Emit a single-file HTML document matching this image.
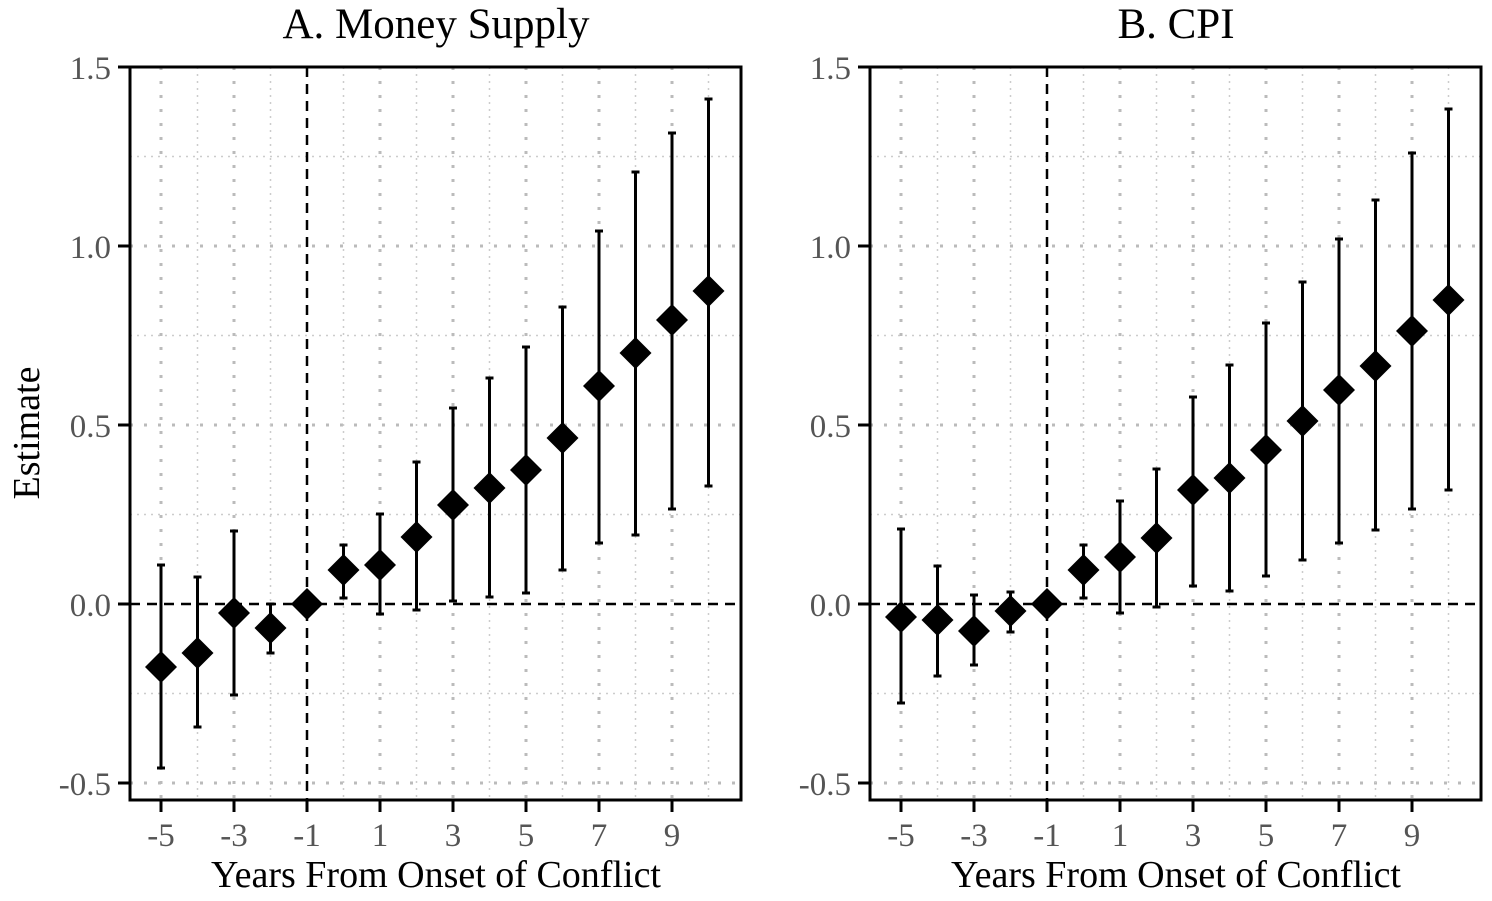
<!DOCTYPE html>
<html><head><meta charset="utf-8"><style>
html,body{margin:0;padding:0;background:#fff;}
svg{display:block;}
text{font-family:"Liberation Serif",serif;}
</style></head><body>
<svg id="s" width="1492" height="901" viewBox="0 0 1492 901" xmlns="http://www.w3.org/2000/svg">
<g id="grid"></g>
<g id="data"></g>
<g font-size="43" text-anchor="middle" fill="#000">
<text x="436" y="38">A. Money Supply</text>
<text x="1176" y="38">B. CPI</text>
<text x="436" y="887" font-size="38">Years From Onset of Conflict</text>
<text x="1176" y="887" font-size="38">Years From Onset of Conflict</text>
</g>
<text x="39" y="433" font-size="38" text-anchor="middle" transform="rotate(-90 39 433)">Estimate</text>
<g font-size="33" fill="#555" text-anchor="end">
<text x="111" y="79">1.5</text><text x="111" y="258">1.0</text><text x="111" y="437">0.5</text><text x="111" y="616">0.0</text><text x="111" y="795">-0.5</text>
<text x="851" y="79">1.5</text><text x="851" y="258">1.0</text><text x="851" y="437">0.5</text><text x="851" y="616">0.0</text><text x="851" y="795">-0.5</text>
</g>
<g font-size="33" fill="#555" text-anchor="middle">
<text x="161" y="846">-5</text><text x="234" y="846">-3</text><text x="307" y="846">-1</text><text x="380" y="846">1</text><text x="453" y="846">3</text><text x="526" y="846">5</text><text x="599" y="846">7</text><text x="672" y="846">9</text>
<text x="901" y="846">-5</text><text x="974" y="846">-3</text><text x="1047" y="846">-1</text><text x="1120" y="846">1</text><text x="1193" y="846">3</text><text x="1266" y="846">5</text><text x="1339" y="846">7</text><text x="1412" y="846">9</text>
</g>
</svg>
<script>
var NS="http://www.w3.org/2000/svg";
function el(p,t,a){var e=document.createElementNS(NS,t);for(var k in a)e.setAttribute(k,a[k]);document.getElementById(p).appendChild(e);return e;}
var L=[[667,768,565],[653,727,577],[613,695,531],[628,653,604],[604,604,604],[570,598,545],[565,614,514],[537,610,462],[505,601,408],[488,597,378],[470,593,347],[438,570,307],[386,543,231],[353,535,172],[320,509,133],[291,486,99]];
var R=[[617,703,529],[620,676,566],[631,665,595],[611,632,592],[604,604,604],[570,598,545],[557,613,501],[538,607,469],[490,586,397],[478,591,365],[450,576,323],[421,560,282],[390,543,239],[366,530,200],[331,509,153],[300,490,109]];
[[0,L],[740,R]].forEach(function(p){
 var o=p[0],d=p[1],x0=130+o,x1=741+o;
 [67+89.5,246+89.5,425+89.5,604+89.5].forEach(function(y){el("grid","line",{x1:x0,x2:x1,y1:y,y2:y,stroke:"#ccc","stroke-width":1.5,"stroke-dasharray":"2 5"});});
 [67,246,425,783].forEach(function(y){el("grid","line",{x1:x0,x2:x1,y1:y,y2:y,stroke:"#bbb","stroke-width":3,"stroke-dasharray":"3 11"});});
 for(var i=-5;i<=10;i++){var x=161+o+(i+5)*36.5;
  if(i==-1)continue;
  if(i%2!=0)el("grid","line",{x1:x,x2:x,y1:67,y2:800,stroke:"#bbb","stroke-width":3,"stroke-dasharray":"3 11"});
  else el("grid","line",{x1:x,x2:x,y1:67,y2:800,stroke:"#ccc","stroke-width":1.5,"stroke-dasharray":"2 5"});}
 el("grid","line",{x1:x0,x2:x1,y1:604,y2:604,stroke:"#000","stroke-width":2.5,"stroke-dasharray":"10 7"});
 el("grid","line",{x1:307+o,x2:307+o,y1:67,y2:800,stroke:"#000","stroke-width":2.5,"stroke-dasharray":"10 7"});
 el("grid","polyline",{points:x0+",67 "+x0+",800 "+x1+",800 "+x1+",67 "+x0+",67",fill:"none",stroke:"#000","stroke-width":3});
 [67,246,425,604,783].forEach(function(y){el("grid","line",{x1:x0-12,x2:x0,y1:y,y2:y,stroke:"#000","stroke-width":3});});
 for(var i=-5;i<=9;i+=2){var x=161+o+(i+5)*36.5;el("grid","line",{x1:x,x2:x,y1:800,y2:812,stroke:"#000","stroke-width":3});}
 d.forEach(function(v,k){var x=161+o+k*36.5;
  if(v[1]!=v[2]){el("data","line",{x1:x,x2:x,y1:v[1],y2:v[2],stroke:"#000","stroke-width":3});
   el("data","line",{x1:x-4,x2:x+4,y1:v[1],y2:v[1],stroke:"#000","stroke-width":3});
   el("data","line",{x1:x-4,x2:x+4,y1:v[2],y2:v[2],stroke:"#000","stroke-width":3});}
  var h=16,y=v[0];
  el("data","polygon",{points:x+","+(y-h)+" "+(x+h)+","+y+" "+x+","+(y+h)+" "+(x-h)+","+y,fill:"#000"});
 });
});
</script>
</body></html>
